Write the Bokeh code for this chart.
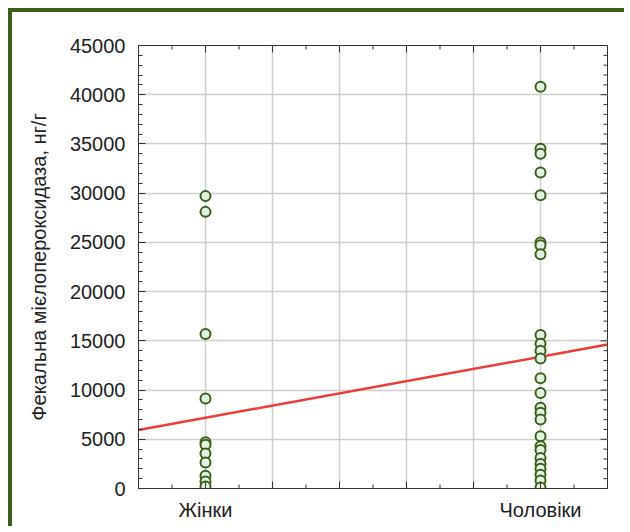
import numpy as np
from bokeh.plotting import figure
from bokeh.models import (LinearAxis, FixedTicker, SingleIntervalTicker, Range1d,
                          ColumnDataSource)
from bokeh.embed import file_html
from bokeh.resources import INLINE

# ---- data ----
categories = ["Жінки", "Чоловіки"]
category_pos = [1.0, 2.0]

women_values = [29700, 28100, 15700, 9150, 4700, 4450, 3550, 2650, 1300, 700, 200]
men_values = [40800, 34500, 34000, 32100, 29800, 25000, 24700, 23800,
              15600, 14700, 14000, 13200, 11200, 9700, 8200, 7700, 7000,
              5300, 4300, 3900, 3100, 2500, 2000, 1400, 800, 100]

trend_x = [0.8, 2.2]
trend_y = [5950, 14620]

y_label = "Фекальна мієлопероксидаза, нг/г"

X_MIN, X_MAX = 0.8, 2.2
Y_MIN, Y_MAX = 0, 45000
X_MAJOR, X_MINOR = 0.2, 0.1
Y_MAJOR, Y_MINOR = 5000, 1000

FONT = "Liberation Sans"
GREEN = "#3b5f1d"
TXT = "#222222"
AX = "#333333"

xs = [category_pos[0]] * len(women_values) + [category_pos[1]] * len(men_values)
ys = women_values + men_values
src = ColumnDataSource(dict(x=xs, y=ys))

p = figure(width=616, height=518, output_backend="svg", toolbar_location=None,
           x_range=Range1d(X_MIN, X_MAX), y_range=Range1d(Y_MIN, Y_MAX),
           min_border_left=126, min_border_top=33, min_border_right=21,
           min_border_bottom=42, x_axis_location=None, y_axis_location=None)
p.styles = {"border-left": f"4px solid {GREEN}", "border-top": f"4px solid {GREEN}",
            "position": "relative", "left": "8px", "top": "8px"}
p.background_fill_color = "white"
p.border_fill_color = "white"
p.outline_line_color = AX
p.outline_line_width = 1

yticker = SingleIntervalTicker(interval=Y_MAJOR, num_minor_ticks=Y_MAJOR // Y_MINOR)

# bottom axis: only the two category ticks carry labels
bottom = LinearAxis(ticker=FixedTicker(ticks=category_pos, minor_ticks=[]),
                    major_label_overrides={pos: name for pos, name in zip(category_pos, categories)})
bottom.axis_line_color = AX
bottom.major_tick_line_color = AX
bottom.major_tick_in = 7
bottom.major_tick_out = 0
bottom.major_label_text_font = FONT
bottom.major_label_text_font_size = "20px"
bottom.major_label_text_color = TXT
bottom.major_label_standoff = 10
p.add_layout(bottom, "below")

left = LinearAxis(ticker=yticker, axis_label=y_label)
left.axis_line_color = AX
left.major_tick_line_color = AX
left.minor_tick_line_color = AX
left.major_tick_in = 7
left.major_tick_out = 0
left.minor_tick_in = 4
left.minor_tick_out = 0
left.major_label_text_font = FONT
left.major_label_text_font_size = "20px"
left.major_label_text_color = TXT
left.major_label_standoff = 13
left.axis_label_text_font = FONT
left.axis_label_text_font_size = "20px"
left.axis_label_text_font_style = "normal"
left.axis_label_text_color = TXT
left.axis_label_standoff = 17
p.add_layout(left, "left")

# grid
grid_x = [round(v, 1) for v in np.arange(X_MIN + X_MAJOR, X_MAX - 1e-9, X_MAJOR)]
p.xgrid.ticker = FixedTicker(ticks=grid_x)
p.ygrid.ticker = yticker
p.xgrid.grid_line_color = "#cfcfcf"
p.ygrid.grid_line_color = "#cfcfcf"
p.xgrid.grid_line_width = 1.5
p.ygrid.grid_line_width = 1.5

# mirrored inward ticks (top, right) and unlabeled bottom ticks
x_all = [round(v, 1) for v in np.arange(X_MIN, X_MAX + 1e-9, X_MINOR)]
x_long = [v for v in x_all if abs((v - X_MIN) / X_MAJOR - round((v - X_MIN) / X_MAJOR)) < 1e-6]
x_short = [v for v in x_all if v not in x_long]
x_long_bottom = [v for v in x_long if v not in category_pos]
y_all = list(range(Y_MIN, Y_MAX + 1, Y_MINOR))
y_long = [v for v in y_all if v % Y_MAJOR == 0]
y_short = [v for v in y_all if v % Y_MAJOR != 0]

tick_kw = dict(line_color=AX, line_width=1, length_units="screen", angle_units="rad")
p.ray(x=x_long, y=[Y_MAX] * len(x_long), length=7, angle=-np.pi / 2, **tick_kw)
p.ray(x=x_short, y=[Y_MAX] * len(x_short), length=4, angle=-np.pi / 2, **tick_kw)
p.ray(x=x_long_bottom, y=[Y_MIN] * len(x_long_bottom), length=7, angle=np.pi / 2, **tick_kw)
p.ray(x=x_short, y=[Y_MIN] * len(x_short), length=4, angle=np.pi / 2, **tick_kw)
p.ray(x=[X_MAX] * len(y_long), y=y_long, length=7, angle=np.pi, **tick_kw)
p.ray(x=[X_MAX] * len(y_short), y=y_short, length=4, angle=np.pi, **tick_kw)

p.line(trend_x, trend_y, line_color="#ee3b3b", line_width=2.5)
p.scatter("x", "y", source=src, size=10, line_color=GREEN, line_width=2,
          fill_color="#e3f2e3")

open("out.html", "w").write(file_html(p, INLINE))
